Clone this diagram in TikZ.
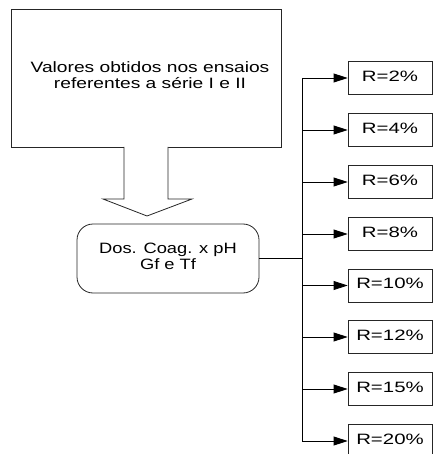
\documentclass[tikz,border=0pt]{standalone}
\usepackage{fontspec}
\usepackage{graphicx}
\setmainfont{Liberation Sans}
\usetikzlibrary{arrows.meta}

% wide, slightly stretched label text
\newcommand{\widetext}[2]{\scalebox{#1}[1]{\begin{tabular}{@{}c@{}}#2\end{tabular}}}

\tikzset{
  outline/.style={draw=black!85, line width=0.8pt},
  sourcebox/.style={outline, rectangle, minimum width=270pt, minimum height=138pt, inner sep=0pt},
  roundbox/.style={outline, rectangle, rounded corners=16pt, minimum width=182pt, minimum height=69pt, inner sep=0pt},
  ratebox/.style={outline, rectangle, minimum width=84pt, minimum height=33pt, inner sep=0pt},
  link/.style={draw=black, line width=0.8pt},
  feed/.style={link, -{Triangle[length=14pt,width=9pt]}},
  blockarrow/.style={outline, fill=white, line join=miter},
}

\begin{document}
\begin{tikzpicture}[x=1pt, y=-1pt, font=\fontsize{15}{16}\selectfont]
\useasboundingbox (0,0) rectangle (433,454);

% source of the data
\node[sourcebox] (src) at (146,78) {};
\node (srctext) at (150,77) {\widetext{1.28}{Valores obtidos nos ensaios\\referentes a série I e II}};

% hollow block arrow leading down from the source box
\draw[blockarrow] (124,147) -- (124,199) -- (103,199) -- (147,216) -- (192,199) -- (168,199) -- (168,147);

% dosage node
\node[roundbox, align=center] (dos) at (168,258.5) {\widetext{1.22}{Dos. Coag. x pH\\Gf e Tf}};

% rate boxes
\foreach \i/\yy/\lbl in {1/78/2, 2/130/4, 3/182/6, 4/234/8, 5/285.5/10, 6/337/12, 7/389/15, 8/441/20}{
  \node[ratebox] (r\i) at (390,\yy) {\widetext{1.36}{R=\lbl\%}};
}

% distribution trunk
\coordinate (trunk) at (302,258.5);
\draw[link] (dos.east) -- (trunk);
\draw[link] (trunk |- r1.west) -- (trunk |- r8.west);
\foreach \i in {1,...,8}{
  \draw[feed] (trunk |- r\i.west) -- (r\i.west);
}
\end{tikzpicture}
\end{document}
